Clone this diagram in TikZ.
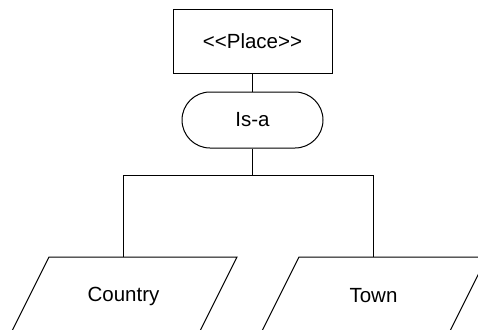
\documentclass[tikz,border=0pt]{standalone}
\usepackage{fontspec}
\setmainfont{Liberation Sans}
\usetikzlibrary{shapes.misc,calc}
\tikzset{
  every picture/.style={line width=1pt},
  label text/.style={font=\fontsize{20.5}{24}\selectfont, inner sep=0pt},
  stereotype/.style={label text, draw, minimum width=159pt, minimum height=63pt},
  relation/.style={label text, draw, rounded rectangle, minimum width=141pt, minimum height=56pt},
  parallelogram edge/.style={draw},
  link/.style={draw}
}
\begin{document}
\begin{tikzpicture}[x=1pt,y=-1pt]
  \useasboundingbox (0,0) rectangle (478,329);
  \clip (0,0) rectangle (478,329);

  % hierarchy head and relation
  \node[stereotype] (place) at (252.5,41.5) {{<}{<}Place{>}{>}};
  \node[relation] (isa) at (252.5,120) {Is-a};

  % subtypes, drawn as parallelograms around their labels
  \node[label text] (country) at (123.5,296) {Country};
  \node[label text] (town) at (373.5,296) {Town};
  \foreach \n in {country,town}{
    \draw[parallelogram edge] ($(\n)+(-74.5,-39)$) -- ($(\n)+(113.5,-39)$)
      -- ($(\n)+(74.5,39)$) -- ($(\n)+(-113.5,39)$) -- cycle;
  }
  \coordinate (countrytop) at ($(country)+(0,-39)$);
  \coordinate (towntop) at ($(town)+(0,-39)$);

  % connectors
  \coordinate (bus) at (252.5,175.5);
  \draw[link] (place.south) -- (isa.north);
  \draw[link] (isa.south) -- (bus);
  \draw[link] (countrytop) |- (bus) -| (towntop);
\end{tikzpicture}
\end{document}
